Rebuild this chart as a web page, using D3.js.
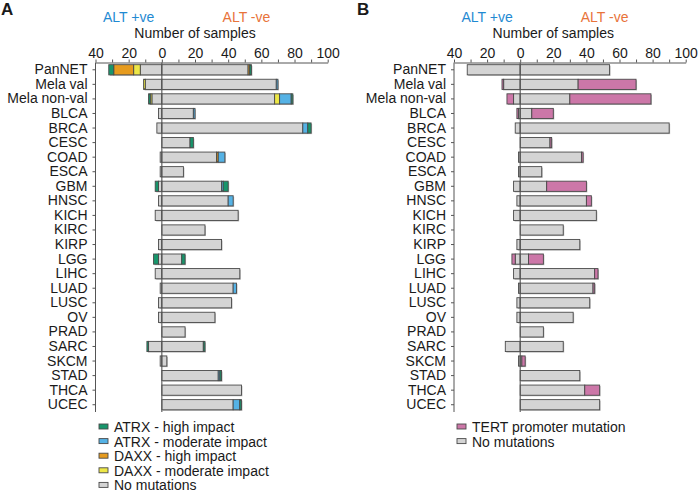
<!DOCTYPE html>
<html>
<head>
<meta charset="utf-8">
<script src="https://cdn.jsdelivr.net/npm/d3@7"></script>
<style>
  html, body { margin: 0; padding: 0; background: #fff; }
  svg { display: block; }
  text { font-family: "Liberation Sans", Arial, sans-serif; fill: #1a1a1a; }
</style>
</head>
<body>
<svg id="chart" width="699" height="495"></svg>
<script>
// ---------- DATA ----------
const categories = ["PanNET","Mela val","Mela non-val","BLCA","BRCA","CESC","COAD","ESCA","GBM","HNSC","KICH","KIRC","KIRP","LGG","LIHC","LUAD","LUSC","OV","PRAD","SARC","SKCM","STAD","THCA","UCEC"];
const ticks = [-40,-30,-20,-10,0,10,20,30,40,50,60,70,80,90,100];

// Panel A – ALT +ve (drawn to the left of zero)
const aPosNoMut    = [13,10,6,2,3,0,1,1,2,2,4,0,2,2,4,1,2,2,0,8,1,0,0,0];
const aPosDaxxMod  = [4,1,1,0,0,0,0,0,0,0,0,0,0,0,0,0,0,0,0,0,0,0,0,0];
const aPosDaxxHigh = [12,0,0,0,0,0,0,0,0,0,0,0,0,0,0,0,0,0,0,0,0,0,0,0];
const aPosAtrxMod  = [0,0,0,0,0,0,0,0,0,0,0,0,0,0,0,0,0,0,0,0,0,0,0,0];
const aPosAtrxHigh = [3,0,1,0,0,0,0,0,2,0,0,0,0,3,0,0,0,0,0,1,0,0,0,0];
// Panel A – ALT -ve (drawn to the right of zero)
const aNegNoMut    = [52,69,68,19,85,17,33,13,36,40,46,26,36,12,47,43,42,32,14,25,3,34,48,43];
const aNegDaxxMod  = [0,0,3,0,0,0,0,0,0,0,0,0,0,0,0,0,0,0,0,0,0,0,0,0];
const aNegDaxxHigh = [1,0,0,0,0,0,1,0,0,0,0,0,0,0,0,0,0,0,0,0,0,0,0,0];
const aNegAtrxMod  = [0,1,7,1,3,0,4,0,1,3,0,0,0,0,0,2,0,0,0,0,0,1,0,4];
const aNegAtrxHigh = [1,0,1,0,2,2,0,0,3,0,0,0,0,2,0,0,0,0,0,1,0,1,0,1];

// Panel B
const bPosNoMut = [32,10,4,1,3,0,1,1,4,2,4,0,2,3,4,1,2,2,0,9,1,0,0,0];
const bPosTert  = [0,1,4,1,0,0,0,0,0,0,0,0,0,2,0,0,0,0,0,0,0,0,0,0];
const bNegNoMut = [54,35,30,7,90,18,37,13,16,40,46,26,36,5,45,44,42,32,14,26,1,36,39,48];
const bNegTert  = [0,35,49,13,0,1,1,0,24,3,0,0,0,9,2,1,0,0,0,0,2,0,9,0];

const legendA = ["ATRX - high impact","ATRX - moderate impact","DAXX - high impact","DAXX - moderate impact","No mutations"];
const legendB = ["TERT promoter mutation","No mutations"];

// ---------- STYLE ----------
const col = {
  atrxHigh: "#17956b", atrxMod: "#55b2e5", daxxHigh: "#e69b1e", daxxMod: "#ede746",
  none: "#d4d4d4", tert: "#cc77a8"
};
const stroke = "#4a4a4a";
const svg = d3.select("#chart");

function panel(opts) {
  const g = svg.append("g");
  const x = d3.scaleLinear().domain([-40, 100]).range([opts.x0, opts.x1]);
  const y = d3.scaleBand().domain(categories).range([62.5, 412]).paddingInner(0.3).paddingOuter(0.15);

  // panel letter
  g.append("text").attr("x", opts.letterX).attr("y", 15).attr("font-size", 17).attr("font-weight", "bold").text(opts.letter);
  // ALT labels
  g.append("text").attr("x", x(-20)).attr("y", 22).attr("font-size", 14).attr("text-anchor", "middle")
    .style("fill", "#1f8ad2").text("ALT +ve");
  g.append("text").attr("x", x(51)).attr("y", 22).attr("font-size", 14).attr("text-anchor", "middle")
    .style("fill", "#e8733a").text("ALT -ve");
  g.append("text").attr("x", x(20)).attr("y", 38).attr("font-size", 14).attr("text-anchor", "middle").text("Number of samples");

  // top axis
  const ax = g.append("g").attr("transform", "translate(0,62.5)")
    .call(d3.axisTop(x).tickValues(ticks).tickSize(3).tickSizeOuter(0).tickPadding(2)
      .tickFormat(d => d % 20 === 0 ? Math.abs(d) : ""));
  ax.selectAll("text").attr("font-size", 14).style("font-family", "Liberation Sans, Arial, sans-serif").style("fill", "#1a1a1a");
  ax.selectAll("path,line").attr("stroke", "#555");

  // left axis
  const ay = g.append("g").attr("transform", `translate(${opts.x0},0)`)
    .call(d3.axisLeft(y).tickSize(3).tickSizeOuter(0).tickPadding(5));
  ay.selectAll("text").attr("font-size", 14).style("font-family", "Liberation Sans, Arial, sans-serif").style("fill", "#1a1a1a");
  ay.selectAll("path,line").attr("stroke", "#555");
  ay.select("path.domain").attr("d", `M0,62.5V412`);

  // bars
  const bh = y.bandwidth();
  categories.forEach((c, i) => {
    [["pos", opts.pos], ["neg", opts.neg]].forEach(([side, series]) => {
      let acc = 0;
      const segs = [];
      series.forEach(s => {
        const v = s.values[i];
        if (v > 0) { segs.push({ a: acc, b: acc + v, color: s.color }); acc += v; }
      });
      if (!segs.length) return;
      const sgn = side === "pos" ? -1 : 1;
      const xa = d => Math.min(x(0), x(sgn * d));
      const xw = (a, b) => Math.abs(x(sgn * b) - x(sgn * a));
      // soft shadow
      g.append("rect").attr("x", xa(acc) + 1).attr("y", y(c) + 1).attr("width", xw(0, acc)).attr("height", bh)
        .attr("fill", "#b8b8b8");
      segs.forEach(s => {
        g.append("rect")
          .attr("x", Math.min(x(sgn * s.a), x(sgn * s.b)))
          .attr("y", y(c))
          .attr("width", xw(s.a, s.b))
          .attr("height", bh)
          .attr("fill", s.color)
          .attr("stroke", stroke).attr("stroke-width", 0.9);
      });
    });
  });

  // zero line
  g.append("line").attr("x1", x(0)).attr("x2", x(0)).attr("y1", 62.5).attr("y2", 412)
    .attr("stroke", "#555").attr("stroke-width", 1.1);

  // legend
  opts.legend.forEach((l, i) => {
    const yy = 427 + i * 14.6;
    g.append("rect").attr("x", opts.legX).attr("y", yy - 3).attr("width", 9).attr("height", 5)
      .attr("fill", l.color).attr("stroke", stroke).attr("stroke-width", 0.9);
    g.append("text").attr("x", opts.legX + 15).attr("y", yy + 5).attr("font-size", 14).text(l.label);
  });
}

panel({
  letter: "A", letterX: 1, x0: 95.5, x1: 327.7,
  pos: [
    { values: aPosNoMut, color: col.none },
    { values: aPosDaxxMod, color: col.daxxMod },
    { values: aPosDaxxHigh, color: col.daxxHigh },
    { values: aPosAtrxMod, color: col.atrxMod },
    { values: aPosAtrxHigh, color: col.atrxHigh }
  ],
  neg: [
    { values: aNegNoMut, color: col.none },
    { values: aNegDaxxMod, color: col.daxxMod },
    { values: aNegDaxxHigh, color: col.daxxHigh },
    { values: aNegAtrxMod, color: col.atrxMod },
    { values: aNegAtrxHigh, color: col.atrxHigh }
  ],
  legX: 99,
  legend: [
    { label: legendA[0], color: col.atrxHigh },
    { label: legendA[1], color: col.atrxMod },
    { label: legendA[2], color: col.daxxHigh },
    { label: legendA[3], color: col.daxxMod },
    { label: legendA[4], color: col.none }
  ]
});

panel({
  letter: "B", letterX: 357, x0: 454, x1: 685.7,
  pos: [
    { values: bPosNoMut, color: col.none },
    { values: bPosTert, color: col.tert }
  ],
  neg: [
    { values: bNegNoMut, color: col.none },
    { values: bNegTert, color: col.tert }
  ],
  legX: 457,
  legend: [
    { label: legendB[0], color: col.tert },
    { label: legendB[1], color: col.none }
  ]
});
</script>
</body>
</html>
